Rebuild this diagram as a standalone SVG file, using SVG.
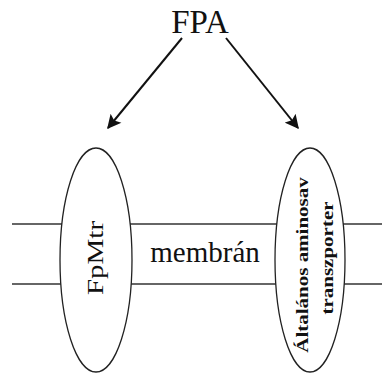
<svg xmlns="http://www.w3.org/2000/svg" width="382" height="374" viewBox="0 0 382 374">
<style>
.t{font-family:"Liberation Serif","Times New Roman",serif;fill:#111}
.mem{stroke:#333;stroke-width:1.6;fill:none}
.node{fill:#fff;stroke:#222;stroke-width:1.3}
.conn{stroke:#111;stroke-width:2;fill:none}
</style>
<defs>
<marker id="ah" viewBox="0 0 10 10" refX="9" refY="5" markerWidth="7.5" markerHeight="7" orient="auto" markerUnits="strokeWidth">
<path d="M0,0 L10,5 L0,10 L2,5 Z" fill="#111"/>
</marker>
</defs>
<rect width="382" height="374" fill="#fff"/>
<g id="membrane">
<line class="mem" x1="12" y1="224" x2="382" y2="224"/>
<line class="mem" x1="12" y1="284" x2="382" y2="284"/>
<text class="t" x="205" y="262" font-size="29" text-anchor="middle">membrán</text>
</g>
<g id="FPA">
<text class="t" x="200" y="33" font-size="33" text-anchor="middle">FPA</text>
</g>
<g id="FpMtr">
<ellipse class="node" cx="96" cy="260" rx="36" ry="112"/>
<text class="t" font-size="29" text-anchor="middle" transform="translate(103,258) rotate(-90) scale(1,0.8)">FpMtr</text>
</g>
<g id="transporter">
<ellipse class="node" cx="310" cy="260" rx="35" ry="112"/>
<text class="t" font-size="21" font-weight="bold" text-anchor="middle" transform="translate(308,265) rotate(-90) scale(1,0.8)">Általános aminosav</text>
<text class="t" font-size="21" font-weight="bold" text-anchor="middle" transform="translate(333,258) rotate(-90) scale(1,0.8)">transzporter</text>
</g>
<g id="connectors">
<line class="conn" x1="182" y1="38" x2="108" y2="128" marker-end="url(#ah)"/>
<line class="conn" x1="226" y1="38" x2="298" y2="128" marker-end="url(#ah)"/>
</g>
</svg>
